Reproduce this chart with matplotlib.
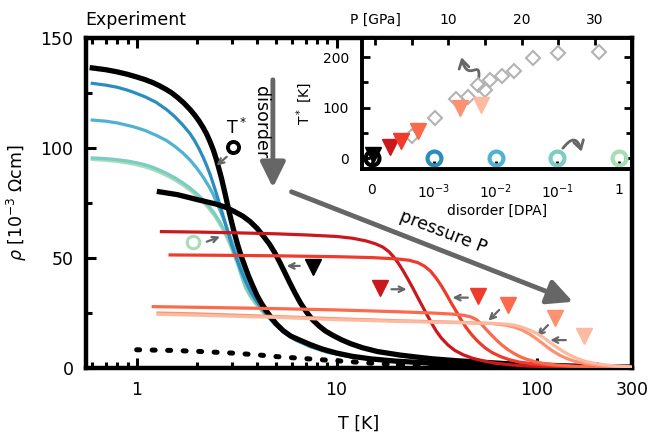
import matplotlib
matplotlib.use("Agg")
import matplotlib.pyplot as plt
from matplotlib.patches import FancyArrowPatch
from matplotlib.path import Path
from matplotlib.ticker import FixedLocator, NullFormatter

# ---- main panel: resistivity curves, rho [1e-3 Ohm cm] vs T [K] ----
T_blk_a = [0.6, 0.7, 0.8, 0.9, 1.0, 1.1, 1.2, 1.3, 1.4, 1.5, 1.6, 1.72, 1.85, 1.95, 2.05, 2.15,
           2.24, 2.33, 2.42, 2.5, 2.58, 2.66, 2.74, 2.82, 2.9, 3.0, 3.1, 3.2, 3.33, 3.47, 3.62,
           3.8, 4.0, 4.2, 4.45, 4.7, 5.0, 5.4, 5.9, 6.5, 7.4, 8.5, 10, 12, 15, 20, 30, 45, 70,
           100, 150, 300]
rho_blk_a = [136.4, 135.6, 134.6, 133.5, 132.3, 131.1, 129.8, 128.3, 126.7, 125, 123, 120.5,
             117.5, 115, 112.3, 109.3, 106.3, 102.8, 99, 95, 90.5, 86, 81, 76, 71, 65.5, 60.5,
             56, 51, 46.5, 42, 37.5, 33, 29.5, 26, 23, 20, 17, 14.5, 12.8, 10.6, 8.6, 6.8, 5.3,
             4.1, 3.1, 2.2, 1.5, 1, 0.7, 0.45, 0.2]

T_blk_b = [1.3, 1.6, 2.0, 2.5, 2.8, 3.1, 3.4, 3.7, 4.0, 4.3, 4.6, 4.9, 5.2, 5.5, 5.85, 6.2,
           6.6, 7.1, 7.6, 8.2, 8.8, 9.6, 10.6, 11.8, 13.5, 16, 20.7, 25, 30, 40, 50, 70, 100,
           150, 200, 300]
rho_blk_b = [80.1, 78.8, 76.6, 74.5, 73, 71, 69, 66.5, 63.5, 60, 56.5, 52.5, 48, 43.5, 38.5,
             34, 29.5, 25.2, 21.8, 19, 16.8, 14.8, 12.8, 11, 9.2, 7.5, 5.9, 5, 4.2, 3.3, 2.8,
             2, 1.4, 0.9, 0.6, 0.4]

T_dot = [1, 1.5, 2, 3, 4, 5, 6.65, 8, 10, 13, 16, 20, 30, 50, 100, 300]
rho_dot = [8.3, 8, 7.6, 6.8, 6, 5.2, 4.4, 3.9, 3.3, 2.6, 2.0, 1.5, 0.9, 0.5, 0.2, 0.1]

T_blue1 = [0.6, 0.7, 0.8, 0.9, 0.96, 1.1, 1.25, 1.41, 1.55, 1.7, 1.85, 1.95, 2.05, 2.15, 2.24,
           2.33, 2.42, 2.5, 2.6, 2.7, 2.8, 2.9, 3.0, 3.15, 3.3, 3.5, 3.75, 4.0, 4.4, 4.9, 5.5,
           6.2, 7.4, 9, 12, 20, 40, 100, 300]
rho_blue1 = [129.4, 128.6, 127.6, 126.3, 125.4, 123.3, 120.8, 117.5, 114.3, 110.5, 106.5, 103.3,
             99.7, 95.8, 92, 88, 83.5, 79.5, 74.5, 69.5, 64.5, 60, 55.5, 50, 45, 39.5, 34, 30,
             25, 20, 16, 13, 9.8, 7.3, 5, 3, 1.5, 0.6, 0.2]

T_blue2 = [0.6, 0.7, 0.8, 0.96, 1.1, 1.25, 1.41, 1.55, 1.7, 1.85, 2.0, 2.15, 2.3, 2.42, 2.52,
           2.62, 2.72, 2.82, 2.95, 3.1, 3.25, 3.45, 3.7, 4.0, 4.4, 4.9, 5.5, 6.2, 7.4, 9, 12,
           20, 40, 100, 300]
rho_blue2 = [112.7, 112.2, 111.4, 109.7, 108, 105.8, 103.4, 100.8, 97.8, 94.5, 90.8, 86.8, 82.5,
             78.7, 75, 71.5, 67.8, 64, 59, 53.5, 48, 42, 36, 30.5, 25, 20, 16, 13, 9.8, 7.3, 5,
             3, 1.5, 0.6, 0.2]

T_teal = [0.6, 0.7, 0.8, 0.9, 1.0, 1.1, 1.2, 1.3, 1.41, 1.55, 1.7, 1.85, 2.0, 2.15, 2.3, 2.45,
          2.6, 2.75, 2.9, 3.05, 3.2, 3.35, 3.5, 3.7, 3.95, 4.25, 4.6, 5.0, 5.5, 6.2, 7.4, 9, 12,
          20, 40, 100, 300]
rho_teal = [95.5, 95.2, 94.7, 94.1, 93.3, 92.4, 91.3, 90, 88.5, 86.5, 84.2, 81.8, 79.2, 76.5,
            73.5, 70.2, 66.5, 62.5, 58, 53, 48, 42, 37, 33, 29.5, 26, 22.8, 19.8, 16.3, 12.9,
            9.7, 7.2, 5, 3, 1.5, 0.6, 0.2]

T_green = [0.6, 0.7, 0.8, 0.9, 1.0, 1.1, 1.2, 1.3, 1.41, 1.55, 1.7, 1.85, 2.0, 2.15, 2.3, 2.45,
           2.6, 2.75, 2.9, 3.05, 3.2, 3.35, 3.5, 3.7, 3.95, 4.25, 4.6, 5.0, 5.5, 6.2, 7.4, 9,
           12, 20, 40, 100, 300]
rho_green = [94.8, 94.4, 93.9, 93.2, 92.4, 91.4, 90.3, 89, 87.5, 85.5, 83.2, 80.8, 78.2, 75.5,
             72.5, 69.2, 65.5, 61.5, 57, 52, 47, 41.5, 36.5, 32.5, 29, 25.6, 22.5, 19.5, 16,
             12.7, 9.6, 7.1, 4.9, 2.9, 1.5, 0.6, 0.2]

T_red1 = [1.33, 2, 3, 5, 7, 10, 12, 14, 15.6, 17, 18.2, 19.3, 20.4, 21.5, 22.7, 24, 25.3, 26.7,
          28.2, 29.8, 31.5, 33.5, 36, 39, 43, 48, 55, 62, 75, 90, 120, 170, 300]
rho_red1 = [62, 61.8, 61.5, 61, 60.5, 59.8, 59, 57.8, 56.5, 55, 53, 50.5, 47.5, 44.2, 40.5,
            36.5, 32.5, 28.5, 24.5, 20.5, 16.8, 13.5, 10.5, 8, 6, 4.4, 3.1, 2.2, 1.4, 0.9, 0.5,
            0.3, 0.2]

T_red2 = [1.47, 3, 5, 10, 15, 20, 23, 25.5, 27.5, 29.5, 31.5, 33.5, 35.5, 37.5, 39.8, 42, 44.5,
          47.5, 51, 55, 60, 66, 73, 82, 95, 120, 170, 300]
rho_red2 = [51.4, 51.2, 51, 50.6, 50.2, 49.6, 49, 47.9, 46.3, 44, 40.8, 37.2, 33.3, 29.4, 25.5,
            21.8, 18.3, 15, 12, 9.3, 7, 5.2, 3.8, 2.7, 1.9, 1.1, 0.5, 0.2]

T_red3 = [1.21, 2, 5, 10, 20, 30, 38, 43, 47, 50, 53, 56, 59.5, 63, 67, 71.5, 76.5, 82, 89, 97,
          108, 125, 150, 200, 300]
rho_red3 = [27.9, 27.6, 27, 26.4, 25.6, 25, 24.5, 24, 23.2, 22, 20, 17.5, 15, 12.7, 10.5, 8.5,
            6.8, 5.3, 4, 3, 2.1, 1.4, 0.9, 0.5, 0.2]

T_red4 = [1.28, 2, 5, 10, 20, 40, 60, 70, 78, 85, 92, 99, 106, 113, 121, 130, 141, 155, 175,
          210, 300]
rho_red4 = [25, 24.6, 23.4, 22.4, 21.5, 20.8, 20.2, 19.5, 18.5, 17.2, 15.5, 13.5, 11.5, 9.5,
            7.6, 5.9, 4.4, 3.1, 2, 1.1, 0.3]

T_red5 = [1.28, 2, 5, 10, 20, 40, 60, 70, 78, 85, 92, 100, 108, 116, 125, 135, 147, 160, 176,
          195, 230, 300]
rho_red5 = [24.4, 24, 23, 22, 21.2, 20.6, 20.3, 20, 19.4, 18.5, 17.3, 15.8, 13.9, 11.8, 9.7,
            7.7, 5.8, 4.3, 3, 2.1, 1.2, 0.5]

blues = ["#2b8cbe", "#4eb3d3", "#7bccc4", "#a8ddb5"]
reds = ["#cb181d", "#ef3b2c", "#fb6a4a", "#fc9272", "#fcbba1"]

# ---- inset: T* vs disorder (bottom axis) and pressure (top axis) ----
disorder_pos = [0, 1, 2, 3, 4]
disorder_labels = ["0", "10$^{-3}$", "10$^{-2}$", "10$^{-1}$", "1"]
Tstar_disorder = [0, 0, 0, 0, 0]
circle_colors = ["black"] + blues

P_diamond = [5.1, 8.2, 11.1, 12.7, 14.1, 15.0, 15.7, 17.3, 18.9, 21.6, 25.0, 30.5]
Tstar_diamond = [44, 79, 117, 121, 145, 135, 155, 163, 173, 198, 209, 211]

P_tri = [-0.2, 2.05, 3.55, 5.9, 11.6, 14.4]
Tstar_tri = [6, 23, 35, 54, 99, 105]
tri_colors = ["black"] + reds


fig = plt.figure(figsize=(6.49, 4.32), dpi=100)
ax = fig.add_axes([0.1325, 0.1481, 0.8413, 0.7639])

for T, rho, c in zip([T_green, T_teal, T_blue2, T_blue1],
                     [rho_green, rho_teal, rho_blue2, rho_blue1], blues[::-1]):
    ax.plot(T, rho, color=c, lw=2.3, zorder=2)
ax.plot(T_blk_a, rho_blk_a, color="black", lw=3.8, zorder=3)
ax.plot(T_blk_b, rho_blk_b, color="black", lw=3.8, zorder=3)
ax.plot(T_dot, rho_dot, color="black", lw=3.6, dashes=(0.6, 2.5),
        dash_capstyle="round", zorder=3)
for T, rho, c in zip([T_red1, T_red2, T_red3, T_red4, T_red5],
                     [rho_red1, rho_red2, rho_red3, rho_red4, rho_red5], reds):
    ax.plot(T, rho, color=c, lw=2.3, zorder=4)

ax.set_xscale("log")
ax.set_xlim(0.558, 300)
ax.set_ylim(0, 150)
ax.set_xticks([1, 10, 100, 300])
ax.set_xticklabels(["1", "10", "100", "300"])
ax.xaxis.set_minor_locator(FixedLocator([0.6, 0.7, 0.8, 0.9, 2, 3, 4, 5, 6, 7, 8, 9,
                                         20, 30, 40, 50, 60, 70, 80, 90, 200]))
ax.xaxis.set_minor_formatter(NullFormatter())
ax.set_yticks([0, 50, 100, 150])
ax.yaxis.set_minor_locator(FixedLocator([25, 75, 125]))
ax.tick_params(which="both", direction="in", top=True, right=False, labelsize=12.5,
               width=2.2, pad=9)
ax.tick_params(which="major", length=7)
ax.tick_params(which="minor", length=4)
for s in ax.spines.values():
    s.set_linewidth(3.2)
ax.set_xlabel("T [K]", fontsize=12.5, labelpad=12)
ax.set_ylabel("$\\rho$ [10$^{-3}$ $\\Omega$cm]", fontsize=12.5, labelpad=8)
fig.text(0.132, 0.953, "Experiment", fontsize=12.5, ha="left", va="center")

gray = "#666666"
small = dict(arrowstyle="->", color=gray, lw=1.6, shrinkA=0, shrinkB=0)

# T* marker label
ax.plot([3.04], [100.6], "o", mfc="none", mec="black", ms=8, mew=2.8, zorder=5)
ax.text(3.14, 109, "T$^*$", fontsize=12.5, ha="center", va="center")
ax.annotate("", xy=(2.51, 92), xytext=(2.82, 96), arrowprops=small)

# markers pointing at curves
ax.plot([1.92], [57.1], "o", mfc="none", mec=blues[3], ms=9, mew=2.2, zorder=5)
ax.annotate("", xy=(2.61, 59.7), xytext=(2.24, 57.4), arrowprops=small)
ax.plot([7.62], [46], "v", color="black", ms=11, zorder=5)
ax.annotate("", xy=(5.62, 46.4), xytext=(6.54, 46.4), arrowprops=small)
ax.plot([16.4], [36.2], "v", color=reds[0], ms=11, zorder=5)
ax.annotate("", xy=(22.4, 35.8), xytext=(18.8, 35.8), arrowprops=small)
ax.plot([50.7], [32.7], "v", color=reds[1], ms=11, zorder=5)
ax.annotate("", xy=(38, 32), xytext=(45.3, 32), arrowprops=small)
ax.plot([71.6], [28.6], "v", color=reds[2], ms=11, zorder=5)
ax.annotate("", xy=(57.4, 21.5), xytext=(65, 26.4), arrowprops=small)
ax.plot([123], [22.6], "v", color=reds[3], ms=11, zorder=5)
ax.annotate("", xy=(100.6, 14.5), xytext=(114, 19.5), arrowprops=small)
ax.plot([172], [14.5], "v", color=reds[4], ms=11, zorder=5)
ax.annotate("", xy=(117, 12.7), xytext=(140, 12.7), arrowprops=small)

# big arrows
big = dict(arrowstyle="-|>,head_width=0.42,head_length=0.85", color=gray, lw=3.5,
           shrinkA=0, shrinkB=0, mutation_scale=18)
ax.annotate("", xy=(4.8, 82), xytext=(4.8, 131), arrowprops=big)
ax.text(4.2, 112, "disorder", rotation=270, fontsize=12.5, ha="center", va="center")
ax.annotate("", xy=(152, 30.1), xytext=(5.95, 80.1), arrowprops=big)
ax.text(34, 62, "pressure P", rotation=-21, fontsize=12.5, ha="center", va="center")

# ---- inset ----
axi = fig.add_axes([0.5573, 0.6095, 0.4165, 0.3025])
axi.set_zorder(10)
for x, y, c in zip(disorder_pos, Tstar_disorder, circle_colors):
    axi.plot([x], [y], "o", mfc="none", mec=c, ms=10, mew=3, zorder=3, clip_on=False)
axi.set_xlim(-0.162, 4.205)
axi.set_ylim(-20.6, 238)
axi.set_xticks(disorder_pos)
axi.set_xticklabels(disorder_labels)
axi.set_yticks([0, 100, 200])
axi.yaxis.set_minor_locator(FixedLocator([50, 150]))
axi.tick_params(which="both", direction="in", top=False, right=True, labelsize=10,
                width=2)
axi.tick_params(axis="x", pad=10)
axi.tick_params(axis="y", pad=9)
axi.tick_params(which="major", length=6)
axi.tick_params(which="minor", length=4)
axi.set_xlabel("disorder [DPA]", fontsize=10, labelpad=2)
axi.set_ylabel("T$^*$ [K]", fontsize=10, labelpad=6)
for s in axi.spines.values():
    s.set_linewidth(2.6)

axp = axi.twiny()
axp.plot(P_diamond, Tstar_diamond, "D", mfc="none", mec="#b3b3b3", ms=7, mew=1.5)
for p, t, c in zip(P_tri, Tstar_tri, tri_colors):
    axp.plot([p], [t], "v", color=c, ms=11, clip_on=False)
axp.set_xlim(-1.81, 35.06)
axp.set_xticks([0, 10, 20, 30])
axp.set_xticklabels(["P [GPa]", "10", "20", "30"])
axp.xaxis.set_minor_locator(FixedLocator([5, 15, 25]))
axp.tick_params(which="both", direction="in", labelsize=10, width=2, length=5, pad=8)
for s in axp.spines.values():
    s.set_linewidth(2.6)

# curly arrows marking which axis each symbol belongs to
sq = Path([(1.73, 160), (1.76, 198), (1.55, 148), (1.45, 200)],
          [Path.MOVETO, Path.CURVE4, Path.CURVE4, Path.CURVE4])
axi.add_patch(FancyArrowPatch(path=sq, arrowstyle="->,head_width=0.3,head_length=0.5",
                              color=gray, lw=2, mutation_scale=12))
axi.annotate("", xy=(3.39, 13), xytext=(3.09, 20),
             arrowprops=dict(arrowstyle="->,head_width=0.3,head_length=0.5", color=gray,
                             lw=2, connectionstyle="arc3,rad=-1.0", mutation_scale=12,
                             shrinkA=0, shrinkB=0))

fig.savefig("out.png", dpi=100)
